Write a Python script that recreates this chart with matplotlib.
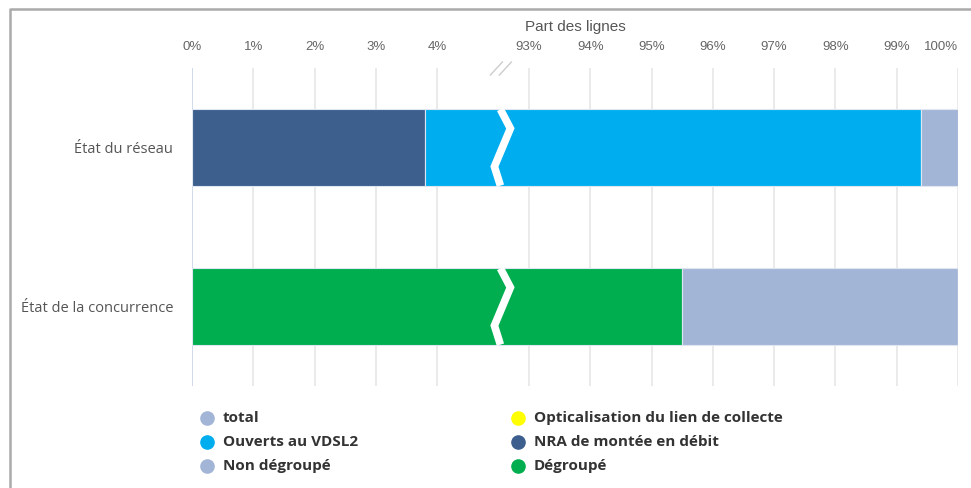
import numpy as np
import matplotlib
matplotlib.use("Agg")
import matplotlib.pyplot as plt
from matplotlib.lines import Line2D
from matplotlib import font_manager

# data (part des lignes, en %)
categories = ["État du réseau", "État de la concurrence"]
series_names = ["total", "Opticalisation du lien de collecte", "Ouverts au VDSL2",
                "NRA de montée en débit", "Non dégroupé", "Dégroupé"]
total = [0.6, 0.0]
optical = [0.0, 0.0]
vdsl2 = [95.6, 0.0]
nra = [3.8, 0.0]
non_degroupe = [0.0, 4.5]
degroupe = [0.0, 95.5]
series_values = [total, optical, vdsl2, nra, non_degroupe, degroupe]
series_colors = ["#a3b5d6", "#ffff00", "#00aeef", "#3c5f8d", "#a3b5d6", "#00ae4f"]

tick_values = [0, 1, 2, 3, 4, 93, 94, 95, 96, 97, 98, 99, 100]
break_from, break_to = 5.0, 92.5

installed = {f.name for f in font_manager.fontManager.ttflist}
narrow = "Liberation Sans Narrow" if "Liberation Sans Narrow" in installed else "Liberation Sans"


# broken x axis: everything between 5 % and 92.5 % is squeezed out
def fwd(x):
    x = np.asarray(x, dtype=float)
    gap = break_to - break_from
    return np.where(x <= break_from, x, np.where(x >= break_to, x - gap, break_from))


def inv(y):
    y = np.asarray(y, dtype=float)
    return np.where(y <= break_from, y, y + (break_to - break_from))


fig = plt.figure(figsize=(9.71, 4.88), dpi=100)
ax = fig.add_axes([192 / 971, 1 - 386 / 488, 766 / 971, 318 / 488])
ax.set_xscale("function", functions=(fwd, inv))
ax.set_xlim(0, 100)
ax.set_ylim(1.5, -0.5)

y = np.arange(len(categories))
bar_h = 0.48
left = np.zeros(len(categories))
# stacked from the last series to the first
for name, vals, col in reversed(list(zip(series_names, series_values, series_colors))):
    vals = np.array(vals)
    ax.barh(y, vals, left=left, height=bar_h, color=col, edgecolor="#dfe6f2",
            linewidth=0.8, zorder=2)
    left = left + vals

# white zigzag over the bars at the break
xb = fwd(break_from) / fwd(100)
trans = matplotlib.transforms.blended_transform_factory(ax.transAxes, ax.transData)
px = 1 / 766
py = 1 / 318
for yc in y:
    zx = [xb + 2 * px, xb + 12 * px, xb - 4 * px, xb + 2 * px]
    zy = [yc - bar_h / 2, yc - bar_h / 4, yc + bar_h / 4, yc + bar_h / 2]
    ax.plot(zx, zy, color="white", lw=5.5, transform=trans, zorder=3,
            solid_joinstyle="miter", solid_capstyle="butt", clip_on=False)

# "//" break mark on top edge
for dx in (-2, 7):
    ax.plot([xb + (dx - 6) * px, xb + (dx + 6) * px], [1 - 7 * py, 1 + 6 * py],
            transform=ax.transAxes, color="#cccccc", lw=1.0, clip_on=False, zorder=4)

ax.set_xticks(tick_values)
ax.set_xticklabels([f"{v}%" for v in tick_values])
ax.xaxis.tick_top()
ax.xaxis.set_label_position("top")
ax.tick_params(axis="x", length=0, pad=11, labelsize=9.5, labelcolor="#666666")
for lab in ax.get_xticklabels():
    lab.set_fontfamily(narrow)
ax.get_xticklabels()[-1].set_horizontalalignment("right")
ax.set_xlabel("Part des lignes", fontsize=11, color="#555555", family=narrow, labelpad=7)
ax.xaxis.grid(True, color="#e6e6e6", lw=1.2, zorder=0)
ax.set_axisbelow(True)
ax.set_yticks(y)
ax.set_yticklabels(categories)
ax.tick_params(axis="y", length=0, pad=13.5, labelsize=10.5, labelcolor="#555555")
for lab in ax.get_yticklabels():
    lab.set_fontfamily("Open Sans")
for s in ax.spines.values():
    s.set_visible(False)
ax.axvline(0, color="#ccd6eb", lw=1.2, zorder=1)

# legend, two columns, filled row by row
leg_cols = [207 / 971, 518 / 971]
leg_rows = [1 - 418 / 488, 1 - 442 / 488, 1 - 466 / 488]
for i, (name, col) in enumerate(zip(series_names, series_colors)):
    cx = leg_cols[i % 2]
    cy = leg_rows[i // 2]
    fig.add_artist(Line2D([cx], [cy], marker="o", markersize=9.5, color=col, lw=0,
                          transform=fig.transFigure))
    fig.text(cx + 16 / 971, cy, name, fontsize=11, fontweight="bold", color="#333333",
             family="Open Sans", va="center", ha="left")

# outer frame
fig.add_artist(Line2D([10 / 971, 10 / 971, 1.0], [0.0, 1 - 9 / 488, 1 - 9 / 488],
                      color="#aaaaaa", lw=1.8, transform=fig.transFigure))

fig.savefig("out.png", dpi=100)
